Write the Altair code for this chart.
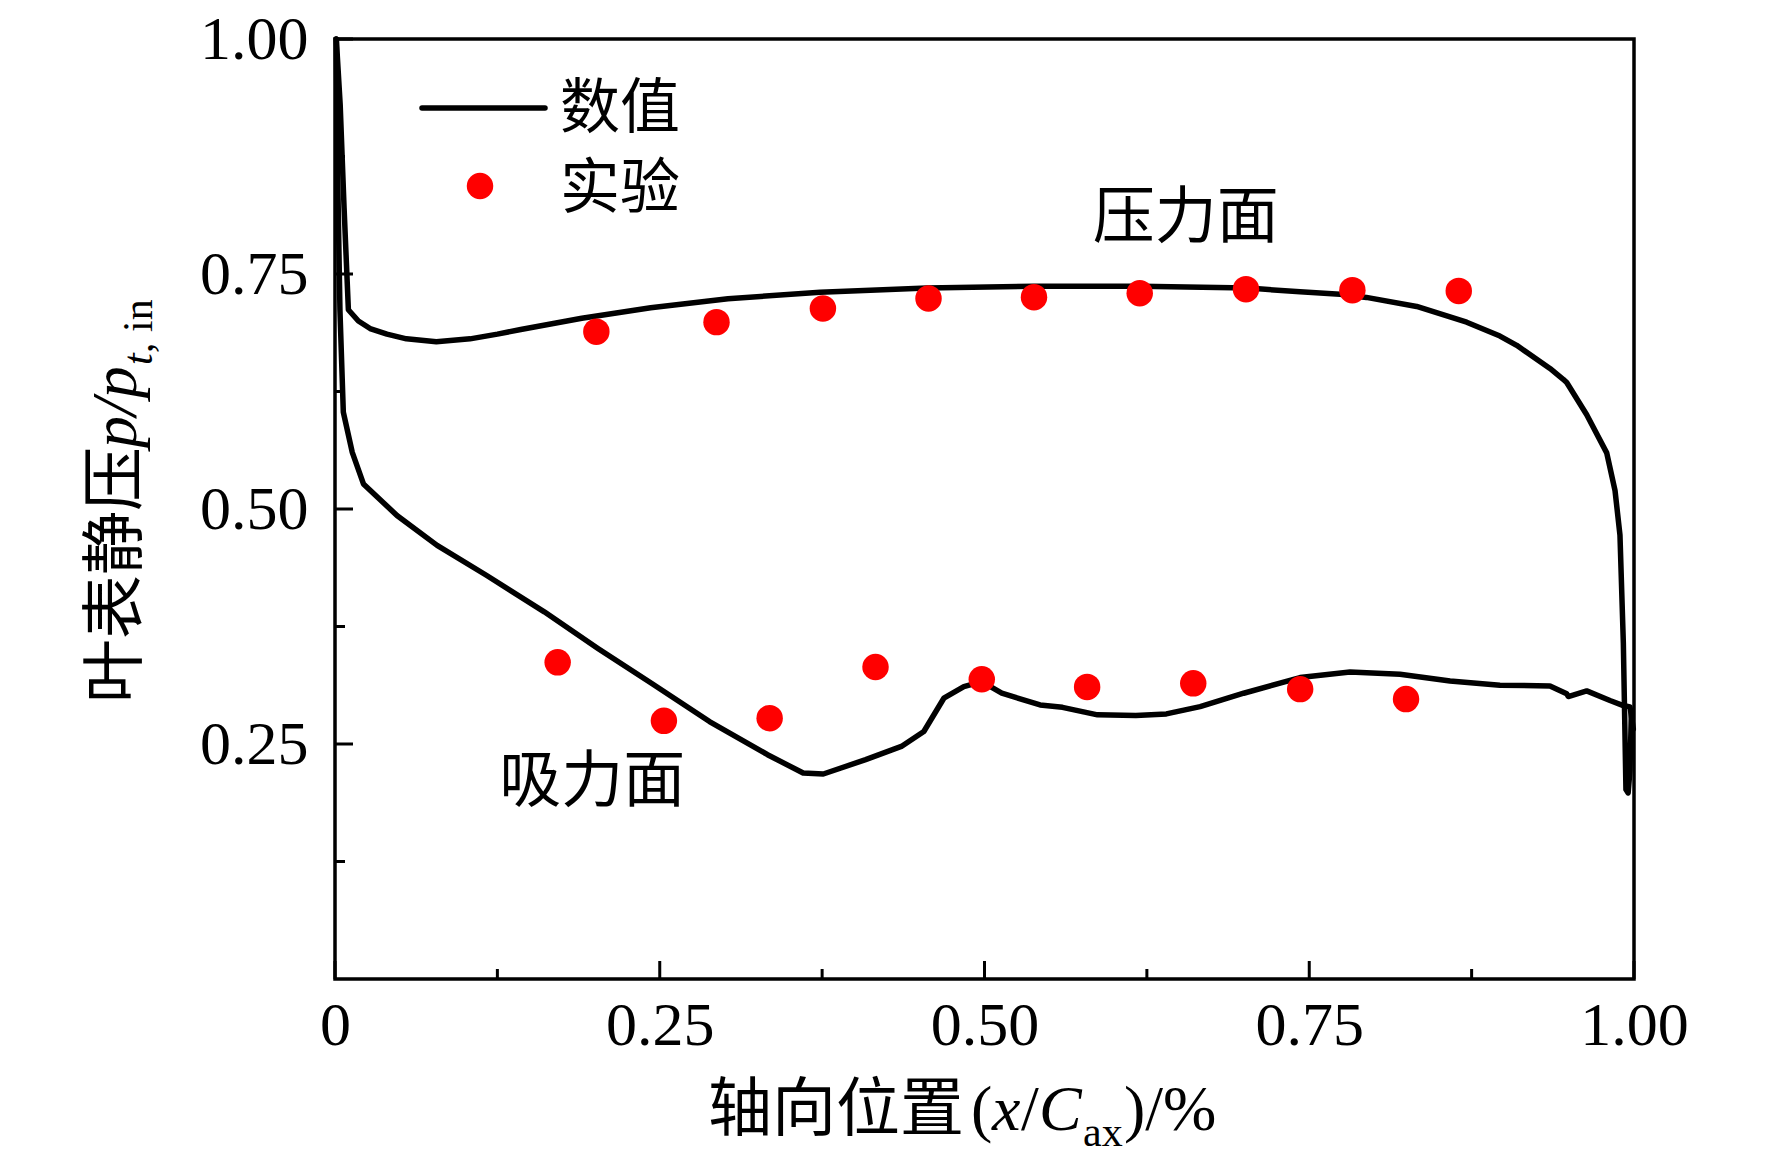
import altair as alt
import pandas as pd

# ---------------- data ----------------
# numerical solution: pressure side (leading edge -> trailing edge)
ps_x = [0.001, 0.004, 0.007, 0.0103, 0.018, 0.027, 0.040, 0.055, 0.078, 0.104, 0.125, 0.143,
        0.190, 0.243, 0.3025, 0.3734, 0.4557, 0.538, 0.620, 0.703, 0.7429, 0.7737, 0.794,
        0.8327, 0.8712, 0.8968, 0.9097, 0.9353, 0.9455, 0.9482, 0.9636, 0.979, 0.9854,
        0.9892, 0.9918, 0.9938, 0.9955, 0.9969, 0.998]
ps_y = [1.000, 0.930, 0.820, 0.712, 0.700, 0.692, 0.686, 0.681, 0.678, 0.681, 0.686, 0.691,
        0.703, 0.714, 0.7236, 0.7307, 0.7352, 0.737, 0.737, 0.735, 0.731, 0.7285, 0.7251,
        0.7155, 0.6987, 0.684, 0.6741, 0.6495, 0.638, 0.6345, 0.6003, 0.5597, 0.5196,
        0.4722, 0.3572, 0.2015, 0.198, 0.2218, 0.285]

# numerical solution: suction side (leading edge -> trailing edge)
ss_x = [0.001, 0.002, 0.0038, 0.0064, 0.0133, 0.0219, 0.0477, 0.0786, 0.1165, 0.1611, 0.2024,
        0.2436, 0.2883, 0.333, 0.3604, 0.3759, 0.4085, 0.436, 0.4533, 0.4687, 0.4841, 0.4979,
        0.5133, 0.5428, 0.560, 0.587, 0.6165, 0.640, 0.666, 0.6995, 0.7429, 0.7814, 0.8199,
        0.8584, 0.8968, 0.9353, 0.9482, 0.9494, 0.9636, 0.9815, 0.9918, 0.9969, 0.9995]
ss_y = [1.000, 0.860, 0.712, 0.603, 0.5602, 0.5267, 0.4931, 0.4613, 0.4295, 0.3906, 0.3517,
        0.3146, 0.2739, 0.2386, 0.2191, 0.2181, 0.2333, 0.2474, 0.2633, 0.2987, 0.311, 0.3163,
        0.304, 0.2916, 0.289, 0.281, 0.2803, 0.282, 0.2898, 0.304, 0.3207, 0.3266, 0.3242,
        0.3171, 0.3125, 0.3118, 0.3035, 0.3005, 0.3065, 0.2963, 0.2909, 0.2895, 0.2659]

# experiment
exp_ps_x = [0.2012, 0.2937, 0.3756, 0.4569, 0.5381, 0.6195, 0.7013, 0.7832, 0.8651]
exp_ps_y = [0.6886, 0.6988, 0.7134, 0.7240, 0.7253, 0.7296, 0.7338, 0.7328, 0.7320]
exp_ss_x = [0.1714, 0.2532, 0.3346, 0.4161, 0.4979, 0.5790, 0.6607, 0.7430, 0.8245]
exp_ss_y = [0.3369, 0.2747, 0.2775, 0.3319, 0.3189, 0.3107, 0.3146, 0.3084, 0.2978]

x_major = [0, 0.25, 0.5, 0.75, 1.0]
x_minor = [0.125, 0.375, 0.625, 0.875]
y_major = [0.25, 0.5, 0.75, 1.0]
y_minor = [0.125, 0.375, 0.625, 0.875]

legend_labels = ["数值", "实验"]
side_labels = ["压力面", "吸力面"]
side_label_x = [0.655, 0.198]
side_label_y = [0.808, 0.209]

# ---------------- chart ----------------
W, H = 1299, 940
CJK = "Noto Sans CJK SC"
SERIF = "Liberation Serif"

lines_df = pd.DataFrame(
    [{"x": x, "y": y, "side": "ps", "i": i} for i, (x, y) in enumerate(zip(ps_x, ps_y))]
    + [{"x": x, "y": y, "side": "ss", "i": i} for i, (x, y) in enumerate(zip(ss_x, ss_y))]
)
exp_df = pd.DataFrame({"x": exp_ps_x + exp_ss_x, "y": exp_ps_y + exp_ss_y})

xs = alt.Scale(domain=[0, 1], nice=False, zero=False)
ys = alt.Scale(domain=[0, 1], nice=False, zero=False)

x_axis = alt.Axis(values=x_major, title=None, ticks=False, domain=False, grid=False,
                  labelExpr="datum.value == 0 ? '0' : format(datum.value, '.2f')",
                  labelFont=SERIF, labelFontSize=62, labelColor="black",
                  labelPadding=16, labelFlush=False, labelOverlap=False, labelBound=False)
y_axis = alt.Axis(values=y_major, title=None, ticks=False, domain=False, grid=False,
                  format=".2f", labelFont=SERIF, labelFontSize=62, labelColor="black",
                  labelPadding=27, labelOverlap=False, labelBound=False)

lines = alt.Chart(lines_df).mark_line(color="black", strokeWidth=5.5, strokeJoin="round",
                                      strokeCap="round").encode(
    x=alt.X("x:Q", scale=xs, axis=x_axis),
    y=alt.Y("y:Q", scale=ys, axis=y_axis),
    detail="side:N",
    order="i:Q",
)

points = alt.Chart(exp_df).mark_point(filled=True, color="#ff0000", size=700, opacity=1,
                                      shape="circle").encode(
    x=alt.X("x:Q", scale=xs, axis=x_axis),
    y=alt.Y("y:Q", scale=ys, axis=y_axis),
)

def xticks(vals, length):
    return alt.Chart(pd.DataFrame({"x": vals})).mark_rule(color="black", strokeWidth=3).encode(
        x=alt.X("x:Q", scale=xs, axis=x_axis),
        y=alt.value(H), y2=alt.value(H - length))

def yticks(vals, length):
    return alt.Chart(pd.DataFrame({"y": vals})).mark_rule(color="black", strokeWidth=3).encode(
        y=alt.Y("y:Q", scale=ys, axis=y_axis),
        x=alt.value(0), x2=alt.value(length))

one = pd.DataFrame({"a": [0]})

def ptext(txt, x, y, size, font, style="normal", angle=0, baseline="alphabetic", align="left"):
    kw = dict(font=font, fontSize=size, fontStyle=style, color="black", align=align,
              baseline=baseline)
    if angle:
        kw["angle"] = angle
    return alt.Chart(one).mark_text(**kw).encode(
        x=alt.value(x), y=alt.value(y), text=alt.value(txt))

side_df = pd.DataFrame({"x": side_label_x, "y": side_label_y, "t": side_labels})
side_text = alt.Chart(side_df).mark_text(font=CJK, fontSize=62, color="black",
                                         baseline="middle", align="center").encode(
    x=alt.X("x:Q", scale=xs, axis=x_axis), y=alt.Y("y:Q", scale=ys, axis=y_axis), text="t:N")

# legend
leg_line = alt.Chart(one).mark_rule(color="black", strokeWidth=5.5, strokeCap="round").encode(
    x=alt.value(87), x2=alt.value(210), y=alt.value(69))
leg_dot = alt.Chart(one).mark_point(filled=True, color="#ff0000", size=700, opacity=1,
                                    shape="circle").encode(x=alt.value(145), y=alt.value(147))
leg_t1 = ptext(legend_labels[0], 225, 71, 60, CJK, baseline="middle")
leg_t2 = ptext(legend_labels[1], 225, 151, 60, CJK, baseline="middle")

# x-axis title: 轴向位置(x/C_ax)/%
xb = 1091
xt = [
    ptext("轴向位置", 373, xb, 64, CJK),
    ptext("(", 636, xb, 64, SERIF),
    ptext("x", 657, xb, 64, SERIF, "italic"),
    ptext("/", 686, xb, 64, SERIF),
    ptext("C", 704, xb, 64, SERIF, "italic"),
    ptext("ax", 748, 1107, 42, SERIF),
    ptext(")/%", 789, xb, 64, SERIF),
]

# y-axis title: 叶表静压p/p_{t, in}
yb = -199
yt = [
    ptext("叶表静压", yb, 664, 64, CJK, angle=270),
    ptext("p/p", yb, 409, 64, SERIF, "italic", angle=270),
    ptext("t", -183, 326, 42, SERIF, "italic", angle=270),
    ptext(", in", -183, 314, 42, SERIF, angle=270),
]

chart = alt.layer(
    lines, points,
    xticks(x_major, 18), xticks(x_minor, 10), yticks(y_major, 18), yticks(y_minor, 10),
    side_text, leg_line, leg_dot, leg_t1, leg_t2, *xt, *yt,
).properties(
    width=W, height=H,
    autosize=alt.AutoSizeParams(type="none"),
    padding={"left": 327, "top": 31, "right": 130, "bottom": 179},
    background="white",
).configure_view(stroke="black", strokeWidth=3.5)

chart.save("out.html", embed_options={"renderer": "svg", "actions": False})
